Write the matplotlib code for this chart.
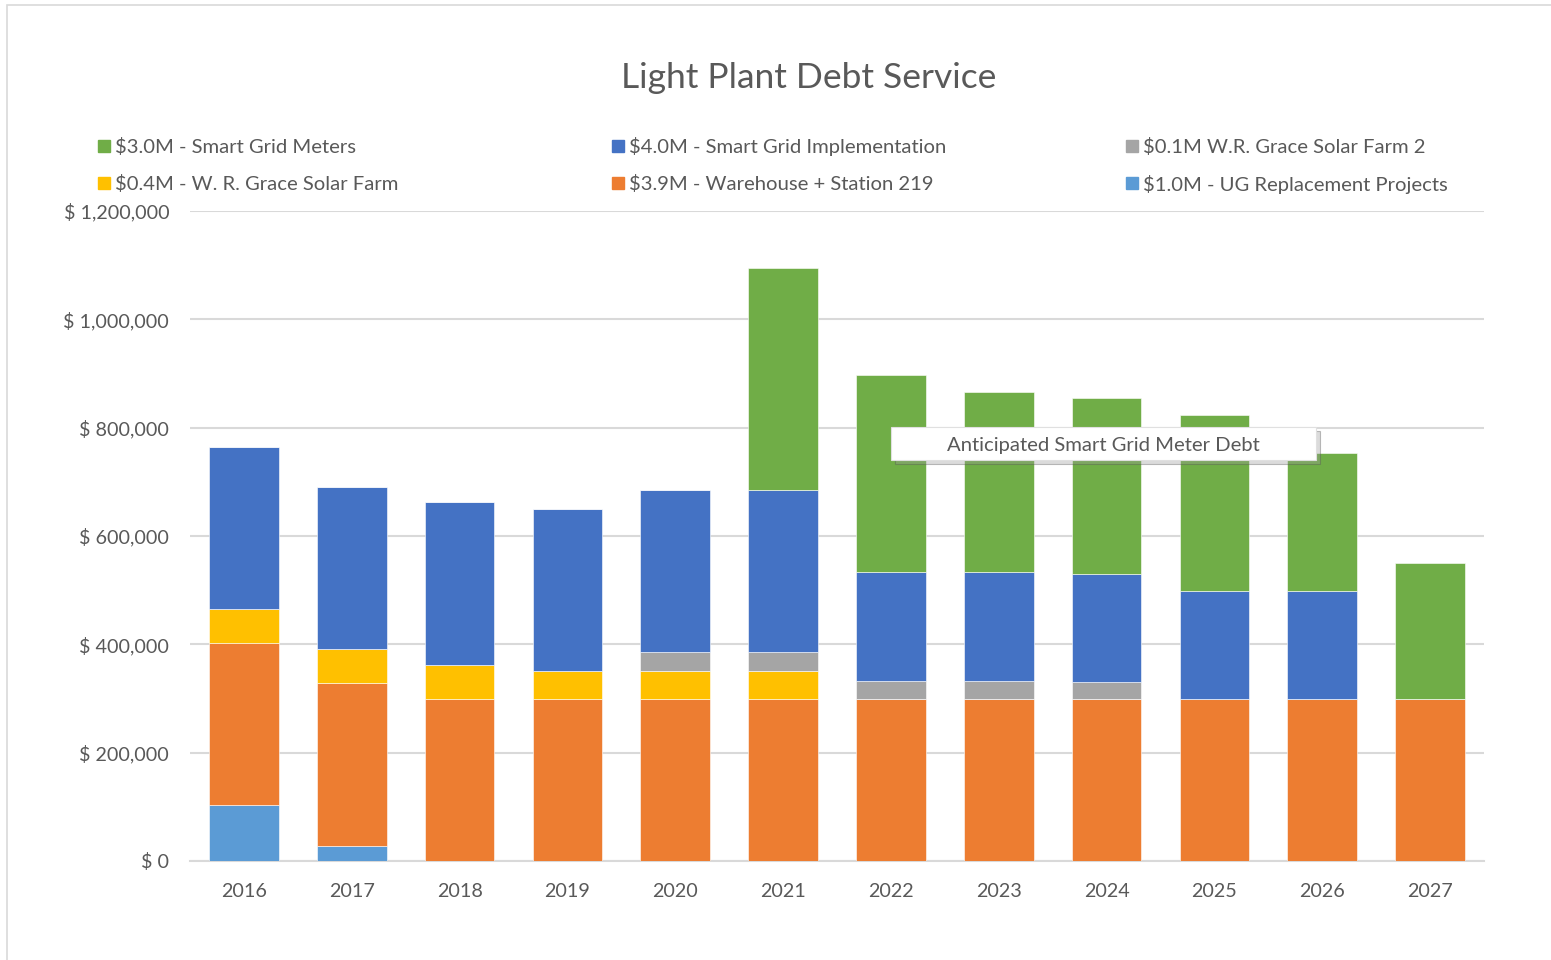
import matplotlib
matplotlib.use("Agg")
import matplotlib.pyplot as plt
from matplotlib.patches import Rectangle, Shadow
from matplotlib.ticker import FuncFormatter
import numpy as np

years = ["2016", "2017", "2018", "2019", "2020", "2021", "2022", "2023", "2024", "2025", "2026", "2027"]
ug_replacement = [103000, 28000, 0, 0, 0, 0, 0, 0, 0, 0, 0, 0]
warehouse = [300000, 300000, 300000, 300000, 300000, 300000, 300000, 300000, 300000, 300000, 300000, 300000]
wr_grace = [62000, 63000, 62000, 50000, 50000, 50000, 0, 0, 0, 0, 0, 0]
wr_grace2 = [0, 0, 0, 0, 35000, 35000, 33000, 33000, 30000, 0, 0, 0]
sg_impl = [300000, 300000, 300000, 300000, 300000, 300000, 200000, 200000, 200000, 198000, 198000, 0]
sg_meters = [0, 0, 0, 0, 0, 410000, 365000, 333000, 325000, 325000, 255000, 250000]

series = [
    ("$1.0M - UG Replacement Projects", ug_replacement, "#5B9BD5"),
    ("$3.9M - Warehouse + Station 219", warehouse, "#ED7D31"),
    ("$0.4M - W. R. Grace Solar Farm", wr_grace, "#FFC000"),
    ("$0.1M W.R. Grace Solar Farm 2", wr_grace2, "#A5A5A5"),
    ("$4.0M - Smart Grid Implementation", sg_impl, "#4472C4"),
    ("$3.0M - Smart Grid Meters", sg_meters, "#70AD47"),
]

FONT = "Lato"
TXT = "#595959"
W, H = 1551, 960
fig = plt.figure(figsize=(W / 100, H / 100), dpi=100)

ax = fig.add_axes([190 / W, (H - 861) / H, (1484 - 190) / W, (861 - 211) / H])
x = np.arange(len(years))
bottom = np.zeros(len(years))
for label, vals, col in series:
    v = np.array(vals, dtype=float)
    ax.bar(x, v, 0.645, bottom=bottom, color=col, edgecolor="white", linewidth=0.4, zorder=3)
    bottom += v

ax.set_xlim(-0.5, len(years) - 0.5)
ax.set_ylim(0, 1200000)
ax.set_yticks(np.arange(0, 1200001, 200000))
ax.yaxis.set_major_formatter(FuncFormatter(lambda v, p: "$ 0" if v == 0 else "$ {:,.0f}".format(v)))
ax.set_xticks(x)
ax.set_xticklabels(years)
ax.grid(axis="y", color="#d9d9d9", linewidth=1.5, zorder=0)
for s in ["top", "right", "left"]:
    ax.spines[s].set_visible(False)
ax.spines["bottom"].set_color("#d9d9d9")
ax.spines["bottom"].set_linewidth(1.5)
ax.tick_params(axis="both", length=0, labelsize=14.2, labelcolor=TXT)
ax.tick_params(axis="y", pad=15)
ax.tick_params(axis="x", pad=16)
for t in ax.get_xticklabels() + ax.get_yticklabels():
    t.set_fontfamily(FONT)

# Title
fig.text(809 / W, 1 - 78 / H, "Light Plant Debt Service", ha="center", va="center",
         fontsize=25.5, color=TXT, family=FONT)

# Legend (manual)
legend_layout = [
    (5, 98, 146), (4, 612, 146), (3, 1126, 146),
    (2, 98, 183), (1, 612, 183), (0, 1126, 183),
]
for idx, lx, ly in legend_layout:
    label, _, col = series[idx]
    fig.patches.append(Rectangle((lx / W, 1 - (ly + 6) / H), 12 / W, 12 / H,
                                 transform=fig.transFigure, color=col))
    fig.text((lx + 17) / W, 1 - (ly + 1) / H, label, ha="left", va="center",
             fontsize=14.6, color=TXT, family=FONT)

# Annotation box
bx0, by0, bx1, by1 = 891, 427, 1316, 460
box = Rectangle((bx0 / W, 1 - by1 / H), (bx1 - bx0) / W, (by1 - by0) / H,
                transform=fig.transFigure, facecolor="white", edgecolor="#e0e0e0",
                linewidth=0.8, zorder=10)
shadow = Shadow(box, 3 / W, -3 / H, facecolor="#9a9a9a", alpha=0.35, zorder=9)
fig.patches.append(shadow)
fig.patches.append(box)
fig.text(1103 / W, 1 - 445 / H, "Anticipated Smart Grid Meter Debt", ha="center", va="center",
         fontsize=14.6, color=TXT, family=FONT, zorder=11)

# Chart border
fig.patches.append(Rectangle((7 / W, -0.05), 1.1, 1 - 5 / H + 0.05, transform=fig.transFigure,
                             facecolor="none", edgecolor="#d9d9d9", linewidth=1.2))

fig.savefig("out.png", dpi=100)
